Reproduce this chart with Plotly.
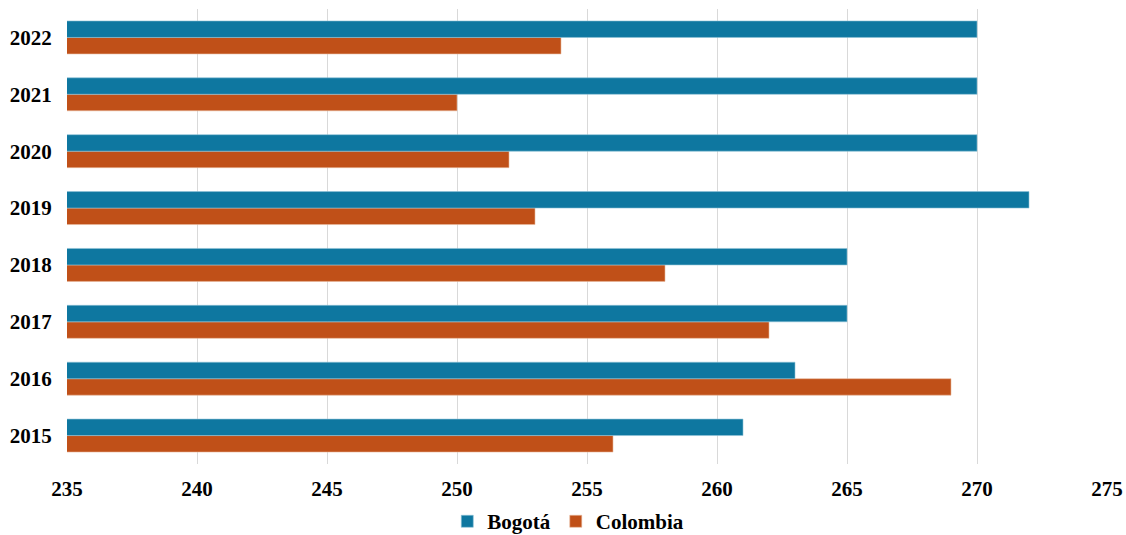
import plotly.graph_objects as go

years = ["2015", "2016", "2017", "2018", "2019", "2020", "2021", "2022"]
bogota = [261, 263, 265, 265, 272, 270, 270, 270]
colombia = [256, 269, 262, 258, 253, 252, 250, 254]
x_ticks = [235, 240, 245, 250, 255, 260, 265, 270, 275]

FONT = "Liberation Serif"

fig = go.Figure()
fig.add_trace(go.Bar(
    y=years, x=colombia, orientation="h", name="<b>Colombia</b>",
    marker=dict(color="#C05018", line=dict(color="#E8B89C", width=0.6)),
))
fig.add_trace(go.Bar(
    y=years, x=bogota, orientation="h", name="<b>Bogotá</b>",
    marker=dict(color="#0E77A0", line=dict(color="#8EC3D6", width=0.6)),
))

fig.update_layout(
    width=1126, height=535,
    margin=dict(l=67, r=19, t=9, b=71, autoexpand=False),
    barmode="group", bargap=0.42, bargroupgap=0,
    plot_bgcolor="white", paper_bgcolor="white",
    font=dict(family=FONT, size=21, color="black"),
    showlegend=True,
    legend=dict(orientation="h", x=0.482, xanchor="center",
                yref="container", y=0.025, yanchor="middle",
                traceorder="reversed", font=dict(family=FONT, size=21, color="black"),
                itemwidth=30, tracegroupgap=0),
    xaxis=dict(range=[235, 275], tickvals=x_ticks,
               ticktext=["<b>%d</b>" % v for v in x_ticks],
               showgrid=True, gridcolor="#D9D9D9", gridwidth=1,
               zeroline=False, showline=False, automargin=False,
               ticks="outside", ticklen=6, tickcolor="rgba(0,0,0,0)",
               tickfont=dict(family=FONT, size=21, color="black")),
    yaxis=dict(type="category", categoryorder="array", categoryarray=years,
               tickvals=years, ticktext=["<b>%s</b>" % y for y in years],
               showgrid=False, zeroline=False, showline=False, automargin=False,
               ticks="outside", ticklen=10, tickcolor="rgba(0,0,0,0)",
               tickfont=dict(family=FONT, size=21, color="black")),
)

fig.write_html(
    "out.html",
    config={"displayModeBar": False},
    post_script="document.body.style.margin='0';document.body.style.overflow='hidden';",
)
